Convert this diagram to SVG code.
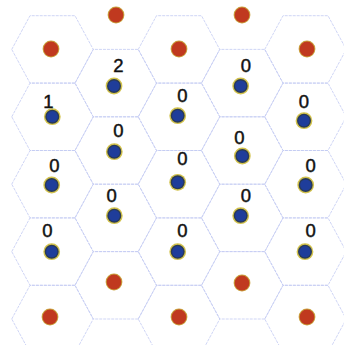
<svg xmlns="http://www.w3.org/2000/svg" width="344" height="345" viewBox="0 0 344 345">
<style>
.hex{fill:none;stroke:#c3caf2;stroke-width:0.8;stroke-dasharray:3 1}
.lbl{font-family:"Liberation Sans",Arial,sans-serif;font-size:18.5px;fill:#111;stroke:#111;stroke-width:0.45;text-anchor:middle}
</style>
<defs>
<polygon id="hex" points="-40.75,0 -22.5,-33.7 22.5,-33.7 40.75,0 22.5,33.7 -22.5,33.7"/>
<g id="bdot"><circle r="8.4" fill="#d2c24c"/><circle r="7" fill="#2a3a55"/><circle r="5.6" fill="#1f3d9a"/></g>
<g id="rdot"><circle r="8.4" fill="#c9a03c"/><circle r="7.4" fill="#c0391f"/></g>
</defs>
<rect width="344" height="345" fill="#fff"/>
<g id="grid" class="hex">
<use href="#hex" x="52.5" y="49.4"/><use href="#hex" x="52.5" y="116.8"/><use href="#hex" x="52.5" y="184.2"/><use href="#hex" x="52.5" y="251.6"/><use href="#hex" x="52.5" y="319"/>
<use href="#hex" x="179" y="49.4"/><use href="#hex" x="179" y="116.8"/><use href="#hex" x="179" y="184.2"/><use href="#hex" x="179" y="251.6"/><use href="#hex" x="179" y="319"/>
<use href="#hex" x="305.5" y="49.4"/><use href="#hex" x="305.5" y="116.8"/><use href="#hex" x="305.5" y="184.2"/><use href="#hex" x="305.5" y="251.6"/><use href="#hex" x="305.5" y="319"/>
<use href="#hex" x="115.75" y="83.1"/><use href="#hex" x="115.75" y="150.5"/><use href="#hex" x="115.75" y="217.9"/><use href="#hex" x="115.75" y="285.3"/>
<use href="#hex" x="242.25" y="83.1"/><use href="#hex" x="242.25" y="150.5"/><use href="#hex" x="242.25" y="217.9"/><use href="#hex" x="242.25" y="285.3"/>
</g>
<g id="connectors"/>
<g id="r1"><use href="#rdot" x="51" y="49"/></g>
<g id="r2"><use href="#rdot" x="116" y="15"/></g>
<g id="r3"><use href="#rdot" x="179" y="49"/></g>
<g id="r4"><use href="#rdot" x="242" y="15"/></g>
<g id="r5"><use href="#rdot" x="307" y="49"/></g>
<g id="r6"><use href="#rdot" x="114" y="282"/></g>
<g id="r7"><use href="#rdot" x="50" y="317"/></g>
<g id="r8"><use href="#rdot" x="179" y="317"/></g>
<g id="r9"><use href="#rdot" x="242" y="283"/></g>
<g id="r10"><use href="#rdot" x="307" y="317"/></g>
<g id="b1"><use href="#bdot" x="114" y="86"/><text class="lbl" x="118.3" y="71.5">2</text></g>
<g id="b2"><use href="#bdot" x="240.7" y="86"/><text class="lbl" x="246" y="71.5">0</text></g>
<g id="b3"><use href="#bdot" x="52.3" y="116.7"/><text class="lbl" x="48.3" y="108">1</text></g>
<g id="b4"><use href="#bdot" x="177.7" y="115.7"/><text class="lbl" x="182.3" y="101.5">0</text></g>
<g id="b5"><use href="#bdot" x="304" y="120.7"/><text class="lbl" x="304" y="108">0</text></g>
<g id="b6"><use href="#bdot" x="114.3" y="151.7"/><text class="lbl" x="118.3" y="136.5">0</text></g>
<g id="b7"><use href="#bdot" x="242.3" y="156"/><text class="lbl" x="239.3" y="143.8">0</text></g>
<g id="b8"><use href="#bdot" x="177.7" y="182.3"/><text class="lbl" x="182.3" y="164.8">0</text></g>
<g id="b9"><use href="#bdot" x="51.7" y="185"/><text class="lbl" x="54.3" y="171.5">0</text></g>
<g id="b10"><use href="#bdot" x="305.7" y="185"/><text class="lbl" x="310.7" y="171.5">0</text></g>
<g id="b11"><use href="#bdot" x="114.3" y="215.7"/><text class="lbl" x="111.7" y="201.5">0</text></g>
<g id="b12"><use href="#bdot" x="240.7" y="215.7"/><text class="lbl" x="246" y="201.5">0</text></g>
<g id="b13"><use href="#bdot" x="51.7" y="251.7"/><text class="lbl" x="47.3" y="236.5">0</text></g>
<g id="b14"><use href="#bdot" x="177.7" y="251.7"/><text class="lbl" x="182.3" y="236.5">0</text></g>
<g id="b15"><use href="#bdot" x="305" y="251.7"/><text class="lbl" x="310.7" y="236.5">0</text></g>
</svg>
